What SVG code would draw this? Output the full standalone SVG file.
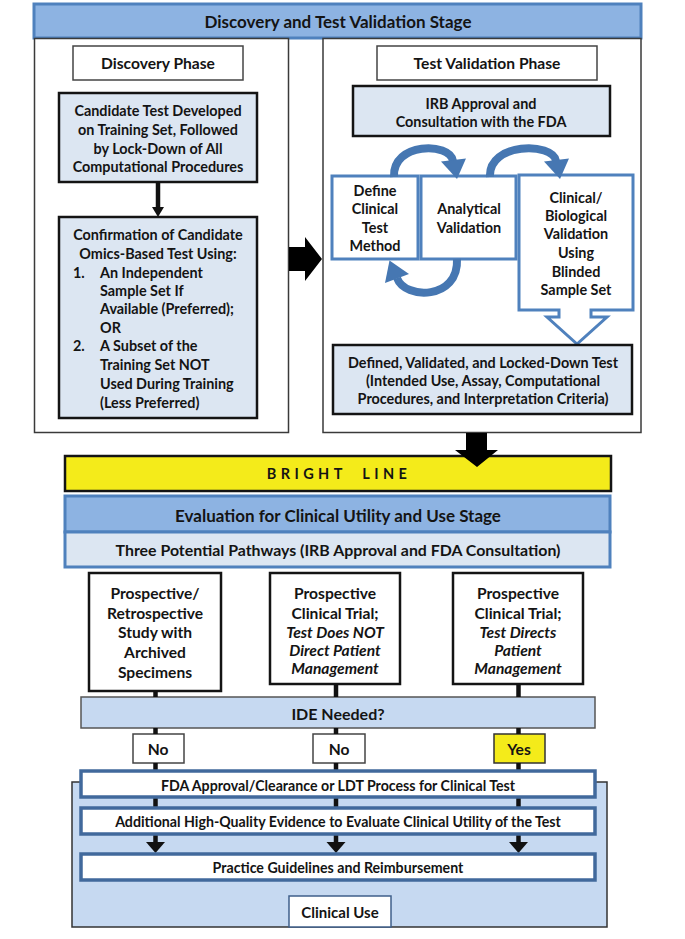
<svg xmlns="http://www.w3.org/2000/svg" width="685" height="939" viewBox="0 0 685 939">
<style>
.t{font-family:Lato,"Liberation Sans",sans-serif;font-weight:700;fill:#141414;text-anchor:middle;dominant-baseline:central;font-size:14.4px}
.l{text-anchor:start}
.i{font-style:italic}
.h{font-size:17px}
.p{font-size:15.6px}
.s{font-size:14.2px}
.panel{fill:#fff;stroke:#3a3a3a;stroke-width:1.5}
.lbl{fill:#fff;stroke:#444;stroke-width:1.5}
.dk{fill:#DCE6F2;stroke:#141414;stroke-width:2.5}
.bl{fill:#fff;stroke:#4F81BD;stroke-width:3}
.hd{fill:#8DB3E2;stroke:#4F81BD;stroke-width:3}
.wb{fill:#fff;stroke:#41699C;stroke-width:3.5}
.cy{fill:none;stroke:#4677B2;stroke-width:8}
.cyh{fill:#4677B2}
.cn{stroke:#111;stroke-width:4.5;fill:none}
</style>

<g id="stage1-header">
<rect class="hd" x="34" y="4" width="607" height="34"/>
<text class="t h" x="338" y="21">Discovery and Test Validation Stage</text>
</g>

<g id="discovery-panel">
<rect class="panel" x="34.5" y="38.5" width="254" height="394"/>
</g>
<g id="validation-panel">
<rect class="panel" x="323" y="38.5" width="318" height="394"/>
</g>

<g id="discovery-phase">
<rect class="lbl" x="73" y="46" width="170" height="34"/>
<text class="t p" x="158" y="63">Discovery Phase</text>
</g>
<g id="test-validation-phase">
<rect class="lbl" x="377" y="46" width="220" height="34"/>
<text class="t p" x="487" y="63">Test Validation Phase</text>
</g>

<g id="candidate-test">
<rect class="dk" x="59" y="93" width="198" height="89"/>
<text class="t" x="158" y="110">Candidate Test Developed</text>
<text class="t" x="158" y="129">on Training Set, Followed</text>
<text class="t" x="158" y="148">by Lock-Down of All</text>
<text class="t" x="158" y="166">Computational Procedures</text>
</g>

<g id="confirmation">
<rect class="dk" x="59" y="217" width="198" height="201"/>
<text class="t" x="158" y="234">Confirmation of Candidate</text>
<text class="t" x="158" y="253">Omics-Based Test Using:</text>
<text class="t l" x="73" y="272">1.</text>
<text class="t l" x="100" y="272">An Independent</text>
<text class="t l" x="100" y="290">Sample Set If</text>
<text class="t l" x="100" y="308">Available (Preferred);</text>
<text class="t l" x="100" y="327">OR</text>
<text class="t l" x="73" y="345">2.</text>
<text class="t l" x="100" y="345">A Subset of the</text>
<text class="t l" x="100" y="364">Training Set NOT</text>
<text class="t l" x="100" y="383">Used During Training</text>
<text class="t l" x="100" y="402">(Less Preferred)</text>
</g>

<g id="irb">
<rect class="dk" x="353" y="86" width="257" height="50"/>
<text class="t" x="481" y="103">IRB Approval and</text>
<text class="t" x="481" y="121">Consultation with the FDA</text>
</g>

<g id="define-method">
<rect class="bl" x="332" y="176" width="86" height="83"/>
<text class="t" x="375" y="190">Define</text>
<text class="t" x="375" y="208">Clinical</text>
<text class="t" x="375" y="227">Test</text>
<text class="t" x="375" y="245">Method</text>
</g>

<g id="analytical-validation">
<rect class="bl" x="421" y="176" width="95" height="83"/>
<text class="t" x="469" y="208">Analytical</text>
<text class="t" x="469" y="227">Validation</text>
</g>

<g id="clinical-validation">
<path class="bl" d="M519,175 H633 V310 H591 V317 H607 L577,344 L547,317 H559 V310 H519 Z"/>
<text class="t" x="576" y="197">Clinical/</text>
<text class="t" x="576" y="215">Biological</text>
<text class="t" x="576" y="233">Validation</text>
<text class="t" x="576" y="252">Using</text>
<text class="t" x="576" y="271">Blinded</text>
<text class="t" x="576" y="289">Sample Set</text>
</g>

<g id="locked-down-test">
<rect class="dk" x="333" y="345" width="299" height="69"/>
<text class="t" x="483" y="362">Defined, Validated, and Locked-Down Test</text>
<text class="t" x="483" y="380">(Intended Use, Assay, Computational</text>
<text class="t" x="483" y="398">Procedures, and Interpretation Criteria)</text>
</g>

<g id="bright-line">
<rect x="65" y="456" width="546" height="35" fill="#F4EB1A" stroke="#141414" stroke-width="2.5"/>
<text class="t" x="339" y="473.5" style="font-size:14.5px;letter-spacing:4.4px;word-spacing:8px">BRIGHT LINE</text>
</g>

<g id="stage2-header">
<rect class="hd" x="65" y="496" width="545" height="36"/>
<text class="t h" x="338" y="515">Evaluation for Clinical Utility and Use Stage</text>
</g>
<g id="three-pathways">
<rect x="65" y="532" width="545" height="35" fill="#DCE6F2" stroke="#4F81BD" stroke-width="3"/>
<text class="t" x="338" y="549" style="font-size:15.9px">Three Potential Pathways (IRB Approval and FDA Consultation)</text>
</g>

<g id="pathway-1">
<rect fill="#fff" stroke="#141414" stroke-width="2.5" x="89" y="573" width="132" height="118"/>
<text class="t p" x="155" y="593">Prospective/</text>
<text class="t p" x="155" y="613">Retrospective</text>
<text class="t p" x="155" y="632">Study with</text>
<text class="t p" x="155" y="652">Archived</text>
<text class="t p" x="155" y="672">Specimens</text>
</g>
<g id="pathway-2">
<rect fill="#fff" stroke="#141414" stroke-width="2.5" x="270" y="573" width="130" height="111"/>
<text class="t p" x="335" y="593">Prospective</text>
<text class="t p" x="335" y="613">Clinical Trial;</text>
<text class="t p i" x="335" y="632">Test Does NOT</text>
<text class="t p i" x="335" y="650">Direct Patient</text>
<text class="t p i" x="335" y="668">Management</text>
</g>
<g id="pathway-3">
<rect fill="#fff" stroke="#141414" stroke-width="2.5" x="453" y="573" width="130" height="111"/>
<text class="t p" x="518" y="593">Prospective</text>
<text class="t p" x="518" y="613">Clinical Trial;</text>
<text class="t p i" x="518" y="632">Test Directs</text>
<text class="t p i" x="518" y="650">Patient</text>
<text class="t p i" x="518" y="668">Management</text>
</g>

<g id="ide-needed">
<rect x="81" y="697" width="514" height="31" fill="#C6D9F1" stroke="#555" stroke-width="1.5"/>
<text class="t" x="338" y="713" style="font-size:16px">IDE Needed?</text>
</g>

<g id="no-1">
<rect class="lbl" x="133" y="734" width="51" height="29"/>
<text class="t p" x="158" y="749">No</text>
</g>
<g id="no-2">
<rect class="lbl" x="313" y="734" width="52" height="29"/>
<text class="t p" x="339" y="749">No</text>
</g>
<g id="yes">
<rect x="494" y="734" width="51" height="29" fill="#F4EB1A" stroke="#333" stroke-width="1.5"/>
<text class="t p" x="519" y="749">Yes</text>
</g>

<g id="clinical-use-panel">
<rect x="72" y="782" width="535" height="145" fill="#C6D9F1" stroke="#333" stroke-width="1.5"/>
</g>

<g id="connectors">
<line class="cn" x1="158" y1="182" x2="158" y2="209" stroke-width="3"/>
<polygon points="152,207 164,207 158,217" fill="#111"/>
<polygon points="289,247 305,247 305,237 322,259 305,281 305,271 289,271" fill="#000"/>
<path class="cy" d="M394,177 C392,142 450,142 453,161"/>
<polygon class="cyh" points="441,161.5 466,158.5 457,179"/>
<path class="cy" d="M490,177 C488,142 553,142 556,161"/>
<polygon class="cyh" points="544,161.5 569,158.5 560,179"/>
<path class="cy" d="M457,259 C459,300 405,300 397,278"/>
<polygon class="cyh" points="409,274 385,283 389.5,260.5"/>
<polygon points="466,433 487,433 487,450 498,450 477,467 455,450 466,450" fill="#000"/>
<line class="cn" x1="155.5" y1="691" x2="155.5" y2="697"/>
<line class="cn" x1="336" y1="684" x2="336" y2="697"/>
<line class="cn" x1="518.5" y1="684" x2="518.5" y2="697"/>
<line class="cn" x1="155.5" y1="728" x2="155.5" y2="734"/>
<line class="cn" x1="336" y1="728" x2="336" y2="734"/>
<line class="cn" x1="518.5" y1="728" x2="518.5" y2="734"/>
<line class="cn" x1="155.5" y1="763" x2="155.5" y2="771"/>
<line class="cn" x1="336" y1="763" x2="336" y2="771"/>
<line class="cn" x1="518.5" y1="763" x2="518.5" y2="771"/>
<line class="cn" x1="155.5" y1="797" x2="155.5" y2="808"/>
<line class="cn" x1="336" y1="797" x2="336" y2="808"/>
<line class="cn" x1="518.5" y1="797" x2="518.5" y2="808"/>
<line class="cn" x1="155.5" y1="834" x2="155.5" y2="843"/>
<line class="cn" x1="336" y1="834" x2="336" y2="843"/>
<line class="cn" x1="518.5" y1="834" x2="518.5" y2="843"/>
<polygon points="146,842 165,842 155.5,853" fill="#111"/>
<polygon points="326.5,842 345.5,842 336,853" fill="#111"/>
<polygon points="509,842 528,842 518.5,853" fill="#111"/>
</g>

<g id="fda-approval">
<rect class="wb" x="81" y="771" width="514" height="26"/>
<text class="t s" x="338" y="785">FDA Approval/Clearance or LDT Process for Clinical Test</text>
</g>
<g id="additional-evidence">
<rect class="wb" x="81" y="808" width="514" height="26"/>
<text class="t s" x="338" y="821.5">Additional High-Quality Evidence to Evaluate Clinical Utility of the Test</text>
</g>
<g id="practice-guidelines">
<rect class="wb" x="81" y="854" width="514" height="26"/>
<text class="t s" x="338" y="867.5">Practice Guidelines and Reimbursement</text>
</g>
<g id="clinical-use">
<rect x="289" y="896" width="102" height="31" fill="#fff" stroke="#3F5F8A" stroke-width="1.5"/>
<text class="t" x="340" y="911.5" style="font-size:15px">Clinical Use</text>
</g>
</svg>
